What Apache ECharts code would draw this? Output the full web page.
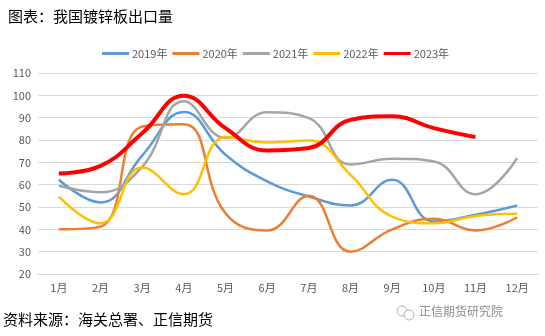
<!DOCTYPE html>
<html><head><meta charset="utf-8">
<script src="https://cdn.jsdelivr.net/npm/echarts@6/dist/echarts.min.js"></script>
<style>html,body{margin:0;padding:0;background:#fff;}#c{width:545px;height:336px;}</style>
</head><body><div id="c"></div>
<script>
var months = ['1月','2月','3月','4月','5月','6月','7月','8月','9月','10月','11月','12月'];
var seriesNames = ['2019年','2020年','2021年','2022年','2023年'];
var v2019 = [62.2, 52, 73, 92.5, 73.4, 61.5, 54.7, 50.7, 62.2, 43.5, 46.5, 50.7];
var v2020 = [40, 41.2, 86, 87, 47.2, 39.5, 55, 30, 40, 44.7, 39.5, 45.4];
var v2021 = [59.5, 56.6, 68, 97.3, 80.9, 92.4, 89.8, 69, 71.6, 70.4, 55.7, 71.9];
var v2022 = [54.7, 42.7, 67.7, 55.7, 81.3, 78.9, 79.8, 64.4, 45.7, 42.7, 46, 47];
var v2023 = [65, 68.4, 83, 99.8, 85.3, 75.3, 76.4, 89, 90.6, 85.3, 81.3];
var yTicks = {min: 20, max: 110, interval: 10};

var colors = ['#5B9BD5','#ED7D31','#A5A5A5','#FFC000','#FF0000'];
var widths = [2.5,2.5,2.5,2.5,4];
var data = [v2019, v2020, v2021, v2022, v2023];

var chart = echarts.init(document.getElementById('c'));
chart.setOption({
  animation: false,
  color: colors,
  textStyle: {fontFamily: 'Noto Sans CJK SC'},
  title: {
    text: '图表：我国镀锌板出口量', left: 3, top: 4,
    textStyle: {fontSize: 15, fontWeight: 'normal', color: '#000', fontFamily: 'Noto Sans CJK SC'}
  },
  legend: {
    left: 97, top: 43, itemWidth: 27, itemHeight: 3, itemGap: 5, icon: 'rect',
    textStyle: {fontSize: 11, color: '#595959', padding: [0,0,0,-2]},
    data: seriesNames
  },
  grid: {left: 38, right: 7, top: 73, bottom: 62},
  xAxis: {
    type: 'category', data: months, boundaryGap: true,
    axisLine: {show: true, lineStyle: {color: '#D9D9D9'}},
    axisTick: {show: false},
    axisLabel: {color: '#595959', fontSize: 11, margin: 8}
  },
  yAxis: {
    type: 'value', min: yTicks.min, max: yTicks.max, interval: yTicks.interval,
    axisLine: {show: false}, axisTick: {show: false},
    axisLabel: {color: '#595959', fontSize: 11, margin: 7},
    splitLine: {lineStyle: {color: '#D9D9D9', width: 1}}
  },
  series: seriesNames.map(function(n, i){
    return {
      name: n, type: 'line', data: data[i], smooth: 0.45, showSymbol: false, symbol: 'none',
      lineStyle: {width: widths[i], color: colors[i]}, z: i === 4 ? 5 : 2
    };
  }),
  graphic: [
    {type: 'text', left: 3, top: 312, style: {text: '资料来源：海关总署、正信期货', fontSize: 15, fill: '#000', fontFamily: 'Noto Sans CJK SC'}},
    {type: 'text', left: 419, top: 305, style: {text: '正信期货研究院', fontSize: 12, fill: '#8c8c8c', fontFamily: 'Noto Sans CJK SC'}},
    {type: 'circle', shape: {cx: 402, cy: 311, r: 5}, style: {fill: 'none', stroke: '#b0b0b0', lineWidth: 1}},
    {type: 'circle', shape: {cx: 409, cy: 315, r: 5}, style: {fill: '#fff', stroke: '#b0b0b0', lineWidth: 1}}
  ]
});
</script></body></html>
